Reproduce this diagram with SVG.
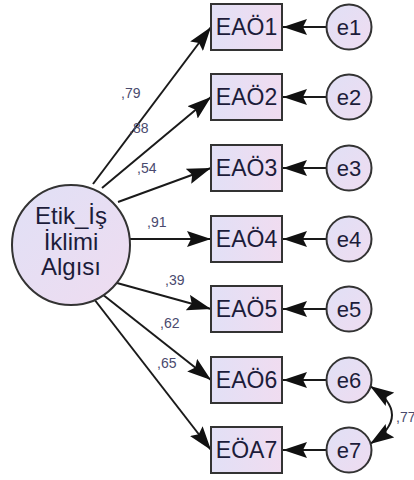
<svg xmlns="http://www.w3.org/2000/svg" width="414" height="480" viewBox="0 0 414 480">
<defs>
<linearGradient id="gBox" x1="0" y1="0" x2="1" y2="0">
<stop offset="0" stop-color="#e2e0f6"/>
<stop offset="1" stop-color="#f0dcf0"/>
</linearGradient>
<linearGradient id="gCirc" x1="0" y1="0" x2="1" y2="1">
<stop offset="0" stop-color="#e0e0f6"/>
<stop offset="1" stop-color="#efdcf0"/>
</linearGradient>
<marker id="ah" viewBox="0 0 24 16" refX="24" refY="8" markerWidth="24" markerHeight="16" markerUnits="userSpaceOnUse" orient="auto-start-reverse">
<path d="M0,0 L24,8 L0,16 L4,8 z" fill="#111"/>
</marker>
<style>
.box{fill:url(#gBox);stroke:#333;stroke-width:2}
.circ{fill:url(#gCirc);stroke:#333;stroke-width:2}
.t{font-family:"Liberation Sans",Arial,sans-serif;fill:#1c1c3a;text-anchor:middle}
.bt{font-size:23px}
.et{font-size:22px}
.lt{font-size:24px}
.lbl{font-family:"Liberation Sans",Arial,sans-serif;font-size:14px;fill:#4a4a6e}
.arr{stroke:#1a1a1a;stroke-width:2;fill:none;marker-end:url(#ah)}
.cov{stroke:#1a1a1a;stroke-width:2;fill:none;marker-end:url(#ah);marker-start:url(#ah)}
</style>
</defs>
<g id="connectors">
<line class="arr" x1="93" y1="184" x2="211" y2="27"/>
<line class="arr" x1="102" y1="188" x2="211" y2="97"/>
<line class="arr" x1="118" y1="202" x2="211" y2="168"/>
<line class="arr" x1="130" y1="239" x2="211" y2="239"/>
<line class="arr" x1="117" y1="283" x2="211" y2="309"/>
<line class="arr" x1="102" y1="294" x2="211" y2="380"/>
<line class="arr" x1="94" y1="299" x2="211" y2="450"/>
<line class="arr" x1="326" y1="27" x2="283" y2="27"/>
<line class="arr" x1="326" y1="97" x2="283" y2="97"/>
<line class="arr" x1="326" y1="168" x2="283" y2="168"/>
<line class="arr" x1="326" y1="239" x2="283" y2="239"/>
<line class="arr" x1="326" y1="309" x2="283" y2="309"/>
<line class="arr" x1="326" y1="380" x2="283" y2="380"/>
<line class="arr" x1="326" y1="450" x2="283" y2="450"/>
<path class="cov" d="M370,386 Q414,415 370,444"/>
</g>
<g id="labels">
<text class="lbl" x="121" y="98">,79</text>
<text class="lbl" x="129" y="133">,88</text>
<text class="lbl" x="137" y="173">,54</text>
<text class="lbl" x="147" y="227">,91</text>
<text class="lbl" x="165" y="285">,39</text>
<text class="lbl" x="160" y="328">,62</text>
<text class="lbl" x="157" y="368">,65</text>
<text class="lbl" x="396" y="422">,77</text>
</g>
<g id="F">
<ellipse class="circ" cx="71" cy="245" rx="59" ry="60"/>
<text class="t lt" x="71" y="224">Etik_İş</text>
<text class="t lt" x="71" y="250">İklimi</text>
<text class="t lt" x="71" y="275">Algısı</text>
</g>
<g id="EAO1"><rect class="box" x="211" y="4" width="71" height="46"/><text class="t bt" x="246.5" y="35">EAÖ1</text></g>
<g id="EAO2"><rect class="box" x="211" y="74" width="71" height="46"/><text class="t bt" x="246.5" y="105">EAÖ2</text></g>
<g id="EAO3"><rect class="box" x="211" y="145" width="71" height="46"/><text class="t bt" x="246.5" y="176">EAÖ3</text></g>
<g id="EAO4"><rect class="box" x="211" y="216" width="71" height="46"/><text class="t bt" x="246.5" y="247">EAÖ4</text></g>
<g id="EAO5"><rect class="box" x="211" y="286" width="71" height="46"/><text class="t bt" x="246.5" y="317">EAÖ5</text></g>
<g id="EAO6"><rect class="box" x="211" y="357" width="71" height="46"/><text class="t bt" x="246.5" y="388">EAÖ6</text></g>
<g id="EOA7"><rect class="box" x="211" y="427" width="71" height="46"/><text class="t bt" x="246.5" y="458">EÖA7</text></g>
<g id="e1"><circle class="circ" cx="349" cy="27" r="22.5"/><text class="t et" x="349" y="35">e1</text></g>
<g id="e2"><circle class="circ" cx="349" cy="97" r="22.5"/><text class="t et" x="349" y="105">e2</text></g>
<g id="e3"><circle class="circ" cx="349" cy="168" r="22.5"/><text class="t et" x="349" y="176">e3</text></g>
<g id="e4"><circle class="circ" cx="349" cy="239" r="22.5"/><text class="t et" x="349" y="247">e4</text></g>
<g id="e5"><circle class="circ" cx="349" cy="309" r="22.5"/><text class="t et" x="349" y="317">e5</text></g>
<g id="e6"><circle class="circ" cx="349" cy="380" r="22.5"/><text class="t et" x="349" y="388">e6</text></g>
<g id="e7"><circle class="circ" cx="349" cy="450" r="22.5"/><text class="t et" x="349" y="458">e7</text></g>
</svg>
